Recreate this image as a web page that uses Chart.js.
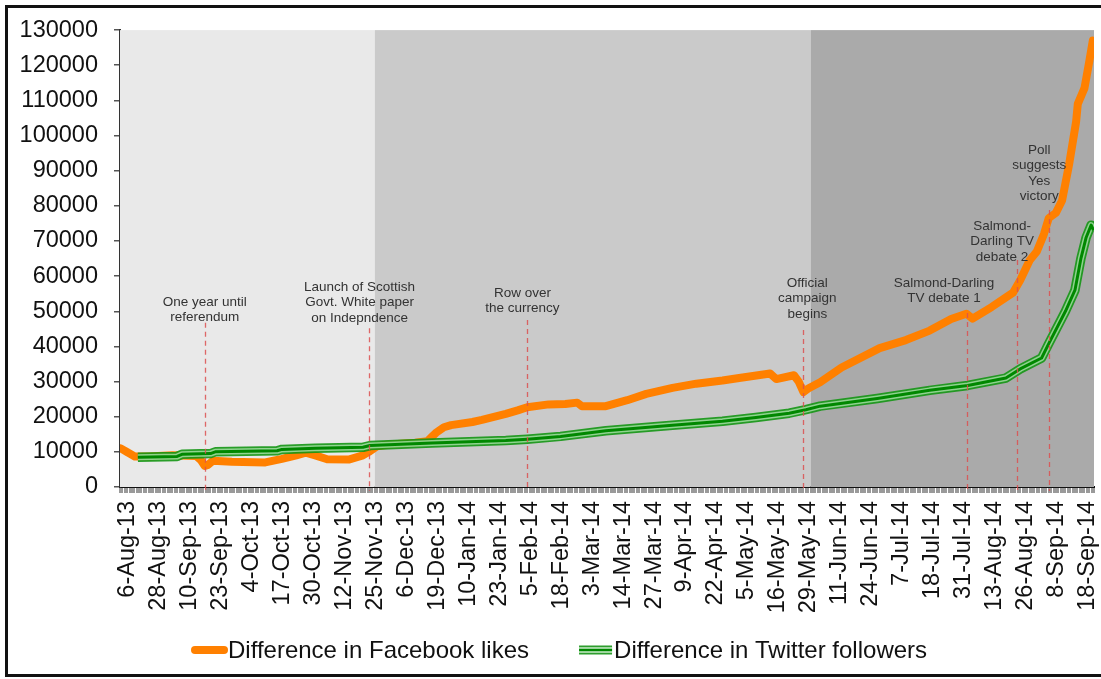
<!DOCTYPE html>
<html>
<head>
    <title>Facebook and Twitter difference</title>
    <script src="https://cdn.jsdelivr.net/npm/chart.js"></script>
    <style>
        body { margin: 0; overflow: hidden; background: #fff; }
        #frame { position: absolute; left: 5px; top: 5px; width: 1200px; height: 666px;
                 border: 3px solid #111; pointer-events: none; z-index: 2; }
        #c { position: absolute; left: 0; top: 0; }
    </style>
</head>
<body>
<div id="frame"></div>
<canvas id="c" width="1101" height="679"></canvas>
<script>
// tick labels, one every 13 day-steps on the category axis
const tickLabels = ['6-Aug-13', '28-Aug-13', '10-Sep-13', '23-Sep-13', '4-Oct-13', '17-Oct-13',
    '30-Oct-13', '12-Nov-13', '25-Nov-13', '6-Dec-13', '19-Dec-13', '10-Jan-14', '23-Jan-14',
    '5-Feb-14', '18-Feb-14', '3-Mar-14', '14-Mar-14', '27-Mar-14', '9-Apr-14', '22-Apr-14',
    '5-May-14', '16-May-14', '29-May-14', '11-Jun-14', '24-Jun-14', '7-Jul-14', '18-Jul-14',
    '31-Jul-14', '13-Aug-14', '26-Aug-14', '8-Sep-14', '18-Sep-14'];
const stepsPerLabel = 13;

const seriesNames = ['Difference in Facebook likes', 'Difference in Twitter followers'];

// Facebook: position (day-step) and value
const fbDays = [-1.7, 1.3, 4.2, 10, 20, 30, 32, 33.6, 35, 37, 45, 59, 66, 72, 76, 80, 85, 94, 100,
    102.5, 106, 110, 122, 127, 129, 131, 134, 137, 146, 150, 160, 165, 169, 178, 185, 190, 192,
    202, 211, 219, 230, 240, 251, 258, 271, 273.6, 281, 283, 285, 287, 292, 301, 317, 328, 338,
    347, 353.4, 356, 364, 373, 376, 380, 383, 386, 388, 391, 393.6, 396.6, 399.5, 400.2, 403,
    405, 406.5];
const fbLikes = [11000, 9800, 8700, 8700, 9000, 8800, 7600, 6000, 6300, 7500, 7200, 7000, 8000,
    9000, 9800, 9000, 7900, 7800, 9000, 10000, 11600, 12000, 12600, 13000, 14300, 15600, 17000,
    17600, 18500, 19100, 20800, 21800, 22700, 23500, 23600, 24000, 23000, 23000, 24700, 26500,
    28200, 29400, 30300, 31000, 32300, 30700, 31800, 30000, 27000, 28000, 29800, 34000, 39500,
    41800, 44500, 47800, 49300, 47900, 51200, 55300, 58800, 64500, 67000, 72000, 76500, 78000,
    81500, 92000, 104000, 109000, 113500, 121000, 127000];

// Twitter
const twDays = [5.5, 22, 24, 36, 38, 64, 66, 80, 100, 103, 129, 160, 169, 183, 202, 230, 251,
    265, 279, 286, 292, 316, 338, 354, 370, 376, 385, 388, 395, 399, 401.5, 403.7, 405.8, 406.8];
const twFollowers = [8500, 8700, 9300, 9500, 10000, 10300, 10700, 11000, 11300, 11800, 12500,
    13200, 13600, 14400, 16000, 17600, 18700, 19800, 21000, 22000, 23000, 25200, 27500, 28900,
    31000, 33600, 36700, 40800, 50000, 56000, 65000, 71000, 74500, 73000];

// campaign phases (start day-step of each shaded period)
const phaseStarts = [-2, 105, 288];
const phaseColors = ['#e9e9e9', '#cacaca', '#aaaaaa'];

// events: day-step, top of dashed line (value), first text line (value), text
const eventDays = [33.6, 102.5, 169, 285, 353.7, 374.6, 388.2];
const eventLineTop = [46700, 45200, 47500, 44700, 49500, 64600, 78800];
const eventTextAt = [52600, 56900, 55200, 58000, 58000, 74300, 95900];
const eventTextDays = [33.6, 98.6, 167, 286.6, 344, 368.4, 384];
const eventTexts = [
    ['One year until', 'referendum'],
    ['Launch of Scottish', 'Govt. White paper', 'on Indepndence'],
    ['Row over', 'the currency'],
    ['Official', 'campaign', 'begins'],
    ['Salmond-Darling', 'TV debate 1'],
    ['Salmond-', 'Darling TV', 'debate 2'],
    ['Poll', 'suggests', 'Yes', 'victory']
];

const FONT = '"Liberation Sans", Arial, sans-serif';
const toPoints = (xs, ys) => xs.map((x, i) => ({ x: x, y: ys[i] }));

const phasePlugin = {
    id: 'phases',
    beforeDatasetsDraw(chart) {
        const { ctx, chartArea: a, scales: { x } } = chart;
        ctx.save();
        phaseStarts.forEach((s, i) => {
            const x0 = Math.max(a.left, x.getPixelForValue(s));
            const x1 = i + 1 < phaseStarts.length ? x.getPixelForValue(phaseStarts[i + 1]) : a.right;
            ctx.fillStyle = phaseColors[i];
            ctx.fillRect(x0, a.top, x1 - x0, a.bottom - a.top);
        });
        ctx.restore();
    }
};

const eventPlugin = {
    id: 'events',
    afterDatasetsDraw(chart) {
        const { ctx, chartArea: a, scales: { x, y } } = chart;
        ctx.save();
        ctx.strokeStyle = 'rgba(220, 80, 80, 0.85)';
        ctx.lineWidth = 1.3;
        ctx.setLineDash([5, 4]);
        eventDays.forEach((d, i) => {
            const px = Math.round(x.getPixelForValue(d)) + 0.5;
            ctx.beginPath();
            ctx.moveTo(px, y.getPixelForValue(eventLineTop[i]));
            ctx.lineTo(px, a.bottom + 4);
            ctx.stroke();
        });
        ctx.setLineDash([]);
        ctx.fillStyle = '#333';
        ctx.font = '13.5px ' + FONT;
        ctx.textAlign = 'center';
        ctx.textBaseline = 'middle';
        eventTexts.forEach((lines, i) => {
            const px = x.getPixelForValue(eventTextDays[i]);
            const py = y.getPixelForValue(eventTextAt[i]);
            lines.forEach((t, j) => ctx.fillText(t, px, py + j * 15.5));
        });
        ctx.restore();
    }
};

const legendPlugin = {
    id: 'bottomLegend',
    afterDraw(chart) {
        const ctx = chart.ctx;
        const ly = 650;
        ctx.save();
        ctx.font = '24px ' + FONT;
        ctx.textBaseline = 'middle';
        ctx.fillStyle = '#111';
        let lx = 191;
        // orange marker
        ctx.lineCap = 'round';
        ctx.strokeStyle = '#ff8000';
        ctx.lineWidth = 8;
        ctx.beginPath(); ctx.moveTo(lx + 4, ly); ctx.lineTo(lx + 33, ly); ctx.stroke();
        ctx.fillText(seriesNames[0], lx + 37, ly + 1);
        lx += 37 + ctx.measureText(seriesNames[0]).width + 50;
        // green marker
        ctx.lineCap = 'butt';
        [[9, '#2e9e2e'], [5.5, '#cdeccd'], [2.5, '#008800']].forEach(([w, c]) => {
            ctx.strokeStyle = c; ctx.lineWidth = w;
            ctx.beginPath(); ctx.moveTo(lx, ly); ctx.lineTo(lx + 33, ly); ctx.stroke();
        });
        ctx.fillText(seriesNames[1], lx + 35, ly + 1);
        ctx.restore();
    }
};

const twPoints = toPoints(twDays, twFollowers);
const lineBase = { pointRadius: 0, tension: 0, fill: false, borderJoinStyle: 'round' };

new Chart(document.getElementById('c').getContext('2d'), {
    type: 'line',
    data: {
        datasets: [
            Object.assign({ label: seriesNames[0], data: toPoints(fbDays, fbLikes),
                borderColor: '#ff8000', borderWidth: 8, borderCapStyle: 'round', order: 4 }, lineBase),
            Object.assign({ label: seriesNames[1], data: twPoints,
                borderColor: 'rgba(20, 150, 20, 0.9)', borderWidth: 9.5, order: 3 }, lineBase),
            Object.assign({ label: 'tw-mid', data: twPoints,
                borderColor: 'rgba(190, 235, 190, 0.7)', borderWidth: 6, order: 2 }, lineBase),
            Object.assign({ label: 'tw-core', data: twPoints,
                borderColor: '#008800', borderWidth: 3, order: 1 }, lineBase)
        ]
    },
    options: {
        responsive: false,
        animation: false,
        layout: { padding: { left: 0, top: 30, right: 7, bottom: 58 } },
        plugins: { legend: { display: false }, tooltip: { enabled: false } },
        scales: {
            x: {
                type: 'linear',
                min: -2,
                max: 407,
                grid: { drawOnChartArea: false, tickLength: 6, color: '#9a9a9a', lineWidth: 2 },
                border: { color: '#111', width: 2 },
                ticks: {
                    stepSize: 1,
                    maxTicksLimit: 1000,
                    autoSkip: false,
                    minRotation: 90,
                    maxRotation: 90,
                    padding: 8,
                    labelOffset: 3,
                    color: '#111',
                    font: { family: FONT, size: 23.5 },
                    callback: v => {
                        const i = v / stepsPerLabel;
                        return Number.isInteger(i) && i >= 0 && i < tickLabels.length ? tickLabels[i] : '';
                    }
                },
                afterFit: s => {
                    s.height = 134;
                    s.paddingLeft = 0;
                    s.paddingRight = 0;
                }
            },
            y: {
                min: 0,
                max: 130000,
                grid: { drawOnChartArea: false, tickLength: 6, color: '#555', lineWidth: 1.5 },
                border: { color: '#333', width: 2 },
                ticks: {
                    stepSize: 10000,
                    padding: 16,
                    color: '#111',
                    font: { family: FONT, size: 23.5 },
                    callback: v => String(v)
                },
                afterFit: s => { s.width = 120; }
            }
        }
    },
    plugins: [phasePlugin, eventPlugin, legendPlugin]
});
</script>
</body>
</html>
